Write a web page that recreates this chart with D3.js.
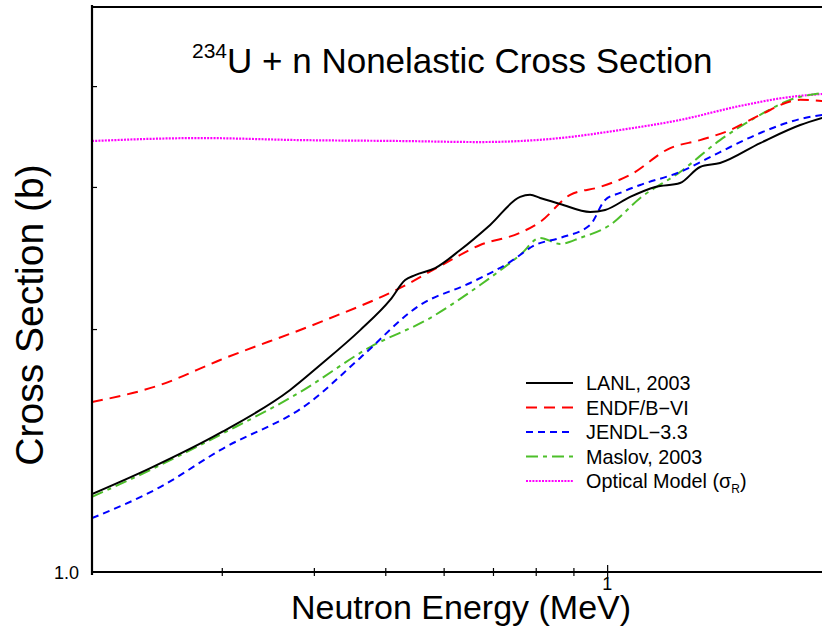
<!DOCTYPE html>
<html>
<head>
<meta charset="utf-8">
<script src="https://cdn.jsdelivr.net/npm/d3@7"></script>
<style>
  html, body { margin: 0; padding: 0; background: #fff; }
  svg { display: block; font-family: "Liberation Sans", Arial, Helvetica, sans-serif; }
</style>
</head>
<body>
<svg id="chart" width="822" height="635"></svg>
<script>
// Neutron energy grid (MeV) and nonelastic cross sections (b) for each evaluation
const lanlE   = [0.200, 0.240, 0.2985, 0.3714, 0.408, 0.4623, 0.5077, 0.532, 0.5489, 0.5843, 0.6318, 0.6938, 0.762, 0.786, 0.8111, 0.8633, 0.9483, 0.9938, 1.0745, 1.162, 1.256, 1.337, 1.423, 1.613, 1.828, 1.958];
const lanlXS  = [1.249, 1.345, 1.487, 1.681, 1.805, 1.994, 2.173, 2.300, 2.333, 2.380, 2.506, 2.692, 2.916, 2.933, 2.907, 2.858, 2.793, 2.809, 2.916, 3.000, 3.034, 3.176, 3.212, 3.400, 3.580, 3.653];

const endfE   = [0.200, 0.2474, 0.2985, 0.408, 0.5238, 0.5935, 0.6725, 0.762, 0.8111, 0.8909, 0.9784, 1.0745, 1.218, 1.337, 1.469, 1.613, 1.828, 1.958];
const endfXS  = [1.624, 1.705, 1.831, 2.040, 2.249, 2.394, 2.542, 2.632, 2.715, 2.933, 3.000, 3.105, 3.352, 3.429, 3.529, 3.685, 3.846, 3.834];

const jendlE  = [0.200, 0.2474, 0.2985, 0.3954, 0.4623, 0.5576, 0.6519, 0.7386, 0.7985, 0.8633, 0.9483, 0.9938, 1.041, 1.109, 1.256, 1.423, 1.613, 1.828, 1.958];
const jendlXS = [1.166, 1.274, 1.416, 1.624, 1.842, 2.142, 2.281, 2.422, 2.542, 2.594, 2.692, 2.891, 2.949, 3.017, 3.131, 3.314, 3.499, 3.642, 3.685];

const maslovE  = [0.200, 0.240, 0.2985, 0.3833, 0.4770, 0.5752, 0.6725, 0.762, 0.8111, 0.8633, 0.9192, 1.0094, 1.109, 1.256, 1.423, 1.613, 1.771, 1.958];
const maslovXS = [1.239, 1.338, 1.479, 1.671, 1.900, 2.064, 2.268, 2.471, 2.594, 2.550, 2.594, 2.692, 2.907, 3.131, 3.429, 3.685, 3.846, 3.923];

const opticalE  = [0.200, 0.2804, 0.3833, 0.5238, 0.6725, 0.8633, 1.041, 1.256, 1.515, 1.771, 1.958];
const opticalXS = [3.420, 3.449, 3.429, 3.420, 3.410, 3.449, 3.529, 3.632, 3.780, 3.878, 3.911];

const xTicks = [0.3, 0.4, 0.5, 0.6, 0.7, 0.8, 0.9, 1, 2];
const yTicks = [2, 3, 4];
const xTickLabels = [{ v: 1, text: "1" }];
const yTickLabels = [{ v: 1, text: "1.0" }];

const series = [
  { name: "LANL, 2003",   e: lanlE,    xs: lanlXS,    color: "#000000", dash: null },
  { name: "ENDF/B\u2212VI", e: endfE,  xs: endfXS,    color: "#ff0000", dash: "11,7" },
  { name: "JENDL\u22123.3", e: jendlE, xs: jendlXS,   color: "#0000ff", dash: "7,5" },
  { name: "Maslov, 2003", e: maslovE,  xs: maslovXS,  color: "#4dbf2a", dash: "12,5,4,5" },
  { name: "Optical Model", e: opticalE, xs: opticalXS, color: "#ff00ff", dash: "2,1.2", sub: "R" }
];

const svg = d3.select("#chart");
const x = d3.scaleLog().domain([0.2, 2]).range([92, 829]);
const y = d3.scaleLog().domain([1, 5]).range([572, 7.9]);

svg.append("defs").append("clipPath").attr("id", "plot")
  .append("rect").attr("x", 92).attr("y", 7).attr("width", 740).attr("height", 566);

// data curves
const line = d3.line().curve(d3.curveMonotoneX).x(d => x(d[0])).y(d => y(d[1]));
const curves = svg.append("g").attr("clip-path", "url(#plot)");
series.slice().reverse().forEach(s => {
  curves.append("path")
    .datum(s.e.map((e, i) => [e, s.xs[i]]))
    .attr("d", line)
    .attr("fill", "none")
    .attr("stroke", s.color)
    .attr("stroke-width", s.dash === "2,1.2" ? 2.2 : 2)
    .attr("stroke-dasharray", s.dash);
});

// frame: left, bottom and top edges
const frame = svg.append("g").attr("stroke", "#000").attr("stroke-width", 2.2).attr("fill", "none");
frame.append("line").attr("x1", 92).attr("x2", 92).attr("y1", 5).attr("y2", 575);
frame.append("line").attr("x1", 91).attr("x2", 830).attr("y1", 572).attr("y2", 572);
frame.append("line").attr("x1", 91).attr("x2", 830).attr("y1", 7).attr("y2", 7);

// x axis ticks (straddle the axis line)
const xAxis = svg.append("g").attr("transform", "translate(0,572)")
  .call(d3.axisBottom(x).tickValues(xTicks).tickFormat("").tickSizeOuter(0));
xAxis.select(".domain").remove();
xAxis.selectAll(".tick line")
  .attr("y1", d => d === 1 ? -7 : -4)
  .attr("y2", d => d === 1 ? 7 : 4)
  .attr("stroke", "#000").attr("stroke-width", 1.2);
svg.append("g").selectAll("text").data(xTickLabels).join("text")
  .attr("x", d => x(d.v)).attr("y", 590)
  .attr("text-anchor", "middle").attr("font-size", 18).text(d => d.text);

// y axis ticks (inside)
const yAxis = svg.append("g").attr("transform", "translate(92,0)")
  .call(d3.axisRight(y).tickValues(yTicks).tickFormat("").tickSize(5).tickSizeOuter(0));
yAxis.select(".domain").remove();
yAxis.selectAll(".tick line").attr("stroke", "#000").attr("stroke-width", 1.2);
svg.append("g").selectAll("text").data(yTickLabels).join("text")
  .attr("x", 79).attr("y", d => y(d.v) + 7)
  .attr("text-anchor", "end").attr("font-size", 18).text(d => d.text);

// axis titles
svg.append("text").attr("x", 461).attr("y", 619).attr("text-anchor", "middle")
  .attr("font-size", 34).text("Neutron Energy (MeV)");
svg.append("text").attr("transform", "translate(43,315) rotate(-90)")
  .attr("text-anchor", "middle").attr("font-size", 39).text("Cross Section (b)");

// chart title with isotope superscript
const title = svg.append("text").attr("x", 192).attr("y", 73).attr("font-size", 35);
title.append("tspan").attr("font-size", 21).attr("dy", -15).text("234");
title.append("tspan").attr("dy", 15).text("U + n Nonelastic Cross Section");

// legend
const legend = svg.append("g");
series.forEach((s, i) => {
  const cy = 383 + i * 24.5;
  legend.append("line").attr("x1", 526).attr("x2", 573).attr("y1", cy).attr("y2", cy)
    .attr("stroke", s.color).attr("stroke-width", 2).attr("stroke-dasharray", s.dash);
  const t = legend.append("text").attr("x", 586).attr("y", cy + 7).attr("font-size", 19.8);
  if (s.sub) {
    t.append("tspan").text(s.name + " (\u03c3");
    t.append("tspan").attr("font-size", 12).attr("dy", 5).text(s.sub);
    t.append("tspan").attr("dy", -5).text(")");
  } else {
    t.text(s.name);
  }
});
</script>
</body>
</html>
